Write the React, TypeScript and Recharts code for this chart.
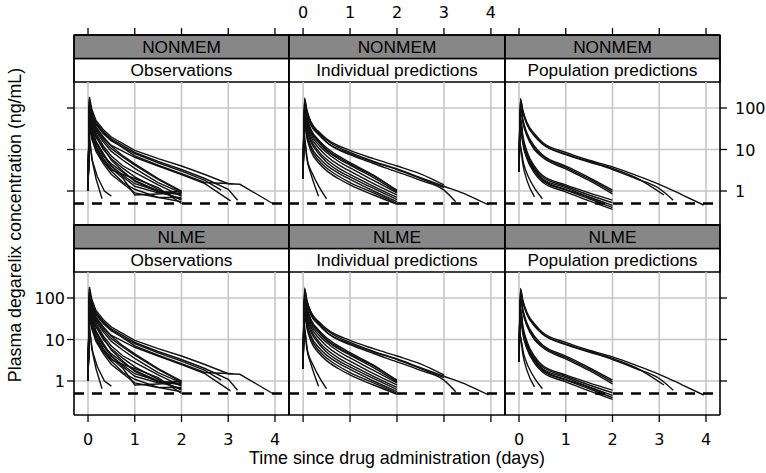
import React from 'react';
import { LineChart, Line, XAxis, YAxis, ReferenceArea, ReferenceLine } from 'recharts';

// ---------------- data ----------------
const ROW_LABELS = ['NONMEM', 'NLME'];
const COL_LABELS = ['Observations', 'Individual predictions', 'Population predictions'];
const X_TICKS = [0, 1, 2, 3, 4];
const Y_TICKS = [1, 10, 100];
const LLOQ = 0.5;

// shared sampling grid for subjects followed for 2 days
const T2 = [0, 0.03, 0.08, 0.17, 0.33, 0.5, 0.75, 1, 1.5, 2];

// Observations
const obsTimes: number[][] = [
  [0, 0.03, 0.08, 0.17, 0.33, 0.5, 1, 1.5, 2, 2.5, 3, 3.25, 3.95],
  [0, 0.03, 0.08, 0.17, 0.33, 0.5, 1, 1.5, 2, 2.5, 3, 3.2],
  [0, 0.03, 0.08, 0.17, 0.33, 0.5, 1, 1.5, 2, 2.5, 2.85],
  [0, 0.03, 0.08, 0.17, 0.33, 0.5, 1, 1.5, 2, 2.5, 3.05],
  [0, 0.03, 0.08, 0.17, 0.33, 0.5, 1, 1.5, 2, 2.5, 3.1],
  T2, T2, T2, T2, T2, T2, T2, T2, T2, T2, T2, T2, T2,
  [0, 0.02, 0.08, 0.17, 0.3],
  [0, 0.02, 0.1, 0.2, 0.35, 0.5],
];
const obsConc: number[][] = [
  [1, 185, 95, 50, 30, 20, 9.5, 6, 4, 2.5, 1.5, 1.45, 0.5],
  [1, 150, 80, 45, 27, 18, 8.5, 5.2, 3.3, 2.0, 1.1, 0.6],
  [1, 120, 70, 40, 24, 16, 8, 4.8, 3, 1.8, 1.05],
  [1, 165, 60, 33, 19, 12.5, 6.5, 4, 2.5, 1.5, 0.58],
  [1, 140, 75, 42, 26, 17, 7, 4.2, 2.6, 1.6, 1.5],
  [1, 110, 60, 35, 20, 12, 7, 4.5, 2, 1.0],
  [1, 90, 50, 28, 15, 9, 5.5, 3.5, 1.6, 0.9],
  [1, 130, 55, 25, 12, 7, 4, 2.8, 1.4, 0.75],
  [1, 70, 40, 20, 10, 6, 3.5, 2.2, 1.1, 0.6],
  [1, 60, 30, 15, 7, 4.5, 2.8, 1.8, 1.0, 0.8],
  [1, 80, 35, 16, 8, 4, 2.2, 1.3, 0.9, 1.0],
  [1, 50, 25, 12, 6, 3.5, 2, 0.8, 0.85, 0.9],
  [1, 40, 20, 10, 5, 3, 1.6, 1.1, 0.7, 0.55],
  [1, 100, 45, 22, 11, 5.5, 3, 1.7, 0.95, 0.65],
  [1, 35, 18, 9, 4.5, 2.5, 1.5, 0.9, 0.7, 0.7],
  [1, 45, 22, 11, 5.5, 3.2, 2.5, 2.0, 1.2, 0.5],
  [1, 55, 28, 14, 7, 4, 2.4, 1.5, 1.0, 0.85],
  [1, 95, 52, 30, 17, 10.5, 6.5, 4.2, 1.9, 0.95],
  [1, 30, 6, 2, 0.65],
  [1, 20, 5, 2.2, 1.0, 0.75],
];

// Individual predictions
const ipredTimes: number[][] = [
  [0, 0.03, 0.08, 0.17, 0.33, 0.5, 1, 1.5, 2, 2.5, 3, 3.5, 3.95],
  [0, 0.03, 0.08, 0.17, 0.33, 0.5, 1, 1.5, 2, 2.5, 3, 3.25],
  [0, 0.03, 0.08, 0.17, 0.33, 0.5, 1, 1.5, 2, 2.5, 3],
  [0, 0.03, 0.08, 0.17, 0.33, 0.5, 1, 1.5, 2, 2.5, 3],
  T2, T2, T2, T2, T2, T2, T2, T2, T2, T2,
  [0, 0.02, 0.08, 0.17, 0.33],
  [0, 0.02, 0.1, 0.2, 0.35, 0.5],
];
const ipredConc: number[][] = [
  [2, 175, 90, 45, 26, 17, 8.5, 5.2, 3.4, 2.1, 1.3, 0.8, 0.46],
  [2, 150, 80, 40, 24, 15, 7.5, 4.6, 2.9, 1.8, 1.05, 0.55],
  [2, 160, 85, 45, 27, 18, 9.5, 6, 4, 2.6, 1.4],
  [2, 130, 70, 38, 23, 15, 8, 5, 3.3, 2.0, 1.2],
  [2, 120, 60, 30, 17, 11, 7, 4.8, 2.4, 1.0],
  [2, 100, 50, 26, 15, 9.5, 6, 4.2, 2.1, 0.95],
  [2, 90, 45, 23, 13, 8.5, 5.2, 3.6, 1.8, 0.9],
  [2, 80, 40, 20, 11, 7, 4.3, 3.0, 1.5, 0.8],
  [2, 70, 34, 17, 9, 5.8, 3.6, 2.5, 1.3, 0.7],
  [2, 60, 30, 15, 8, 5, 3.1, 2.2, 1.15, 0.62],
  [2, 50, 25, 12, 6.5, 4.2, 2.7, 1.9, 1.0, 0.55],
  [2, 45, 22, 10.5, 5.5, 3.6, 2.3, 1.6, 0.9, 0.5],
  [2, 40, 19, 9, 4.8, 3.1, 2.0, 1.4, 0.8, 0.48],
  [2, 110, 55, 28, 16, 10, 6.5, 4.5, 2.3, 1.05],
  [2, 25, 6, 2.5, 0.75],
  [2, 18, 5, 2.6, 1.2, 0.65],
];

// Population predictions
const predTimes: number[][] = [
  [0, 0.03, 0.08, 0.17, 0.33, 0.5, 1, 1.5, 2, 2.5, 3, 3.5, 3.95],
  [0, 0.03, 0.08, 0.17, 0.33, 0.5, 1, 1.5, 2, 2.5, 3.1],
  [0, 0.03, 0.08, 0.17, 0.33, 0.5, 1, 1.5, 2, 2.5, 3, 3.3],
  [0, 0.03, 0.08, 0.17, 0.33, 0.5, 1, 1.5, 2],
  [0, 0.03, 0.08, 0.17, 0.33, 0.5, 1, 1.5, 2],
  [0, 0.03, 0.08, 0.17, 0.33, 0.5, 1, 1.5, 2],
  [0, 0.03, 0.08, 0.17, 0.33, 0.5, 1, 1.5, 2],
  [0, 0.03, 0.08, 0.17, 0.33, 0.5, 1, 1.5, 2],
  [0, 0.03, 0.08, 0.17, 0.33, 0.5, 1, 1.5, 2],
  [0, 0.03, 0.08, 0.17, 0.33, 0.5, 1, 1.5, 2],
  [0, 0.03, 0.08, 0.17, 0.33, 0.5, 1, 1.5, 2],
  [0, 0.03, 0.08, 0.17, 0.33, 0.5, 1, 1.5, 1.75],
  [0, 0.02, 0.08, 0.17, 0.33],
  [0, 0.02, 0.1, 0.2, 0.35, 0.5],
];
const predConc: number[][] = [
  [3, 170, 90, 45, 24, 15, 8.5, 5.5, 3.8, 2.4, 1.45, 0.8, 0.46],
  [3, 160, 85, 42, 22, 14, 7.8, 5.2, 3.5, 2.1, 0.8],
  [3, 150, 80, 40, 21, 13.5, 7.5, 5.0, 3.3, 2.0, 1.15, 0.6],
  [3, 120, 55, 25, 12, 7.5, 4.0, 2.1, 1.05],
  [3, 110, 50, 23, 11, 7, 3.7, 1.95, 0.95],
  [3, 100, 46, 21, 10, 6.5, 3.4, 1.8, 0.85],
  [3, 60, 22, 9, 4, 2.4, 1.4, 0.9, 0.6],
  [3, 55, 20, 8, 3.6, 2.2, 1.3, 0.8, 0.52],
  [3, 50, 18, 7.2, 3.3, 2.0, 1.2, 0.72, 0.45],
  [3, 45, 16, 6.5, 3.0, 1.8, 1.05, 0.65, 0.4],
  [3, 40, 14, 6, 2.7, 1.65, 0.95, 0.58, 0.36],
  [3, 50, 17, 7, 3.2, 1.9, 1.1, 0.7, 0.55],
  [3, 14, 4.5, 1.8, 0.72],
  [3, 12, 4.5, 2.2, 1.1, 0.65],
];

// ---------------- layout ----------------
const W = 766;
const H = 473;
const FONT = '"Liberation Sans", Arial, Helvetica, sans-serif';
const TICK_FONT = '"DejaVu Sans", "Liberation Sans", Arial, sans-serif';
const PANEL_LEFT = [74, 289, 505];
const PANEL_RIGHT = [289, 505, 720];
const ROW_TOP = [35, 225];
const ROW_H = 190; // strips + plotting region
const STRIP_H = 23.5;
const PX_PER_DECADE = 41.5;
const BELOW_ONE_PX = 34; // plot bottom lies 34px below y = 1
const X_DOMAIN: [number, number] = [-0.3, 4.3];
const logAt = (pxAboveBottom: number) =>
  Math.pow(10, (pxAboveBottom - BELOW_ONE_PX) / PX_PER_DECADE);
const Y_MIN = logAt(0);
const Y_MAX = logAt(ROW_H);
const STRIP1_BOTTOM = logAt(ROW_H - STRIP_H);
const STRIP2_BOTTOM = logAt(ROW_H - 2 * STRIP_H);
const AXIS_H = 30;
const AXIS_W = 40;
const FS_STRIP = 17.3;
const FS_TITLE = 17.8;
const FS_TICK = 16;
const GRID = '#c6c6c6';

const toPoints = (ts: number[], cs: number[]) => ts.map((t, i) => ({ t, c: cs[i] }));
const SERIES = [
  { times: obsTimes, conc: obsConc, curve: 'linear' as const },
  { times: ipredTimes, conc: ipredConc, curve: 'monotone' as const },
  { times: predTimes, conc: predConc, curve: 'monotone' as const },
];

const Empty = () => <g />;
const TopTick = (p: any) => (
  <text x={p.x} y={p.y - 8} textAnchor="middle" fontSize={FS_TICK} fontFamily={TICK_FONT} fill="#000">
    {p.payload.value}
  </text>
);
const BottomTick = (p: any) => (
  <text x={p.x} y={p.y + 21} textAnchor="middle" fontSize={FS_TICK} fontFamily={TICK_FONT} fill="#000">
    {p.payload.value}
  </text>
);
const LeftTick = (p: any) => (
  <text x={p.x} y={p.y + 6} textAnchor="end" fontSize={FS_TICK} fontFamily={TICK_FONT} fill="#000">
    {p.payload.value}
  </text>
);
const RightTick = (p: any) => (
  <text x={p.x + 6} y={p.y + 6} textAnchor="start" fontSize={FS_TICK} fontFamily={TICK_FONT} fill="#000">
    {p.payload.value}
  </text>
);

function Panel({ row, col }: { row: number; col: number }) {
  const top = ROW_TOP[row];
  const bottom = top + ROW_H;
  const margin = {
    top: top - AXIS_H,
    bottom: H - bottom - AXIS_H,
    left: PANEL_LEFT[col] - AXIS_W,
    right: W - PANEL_RIGHT[col] - AXIS_W,
  };
  const s = SERIES[col];
  const axisLine = { stroke: '#000', strokeWidth: 1.6 };
  const tl = { stroke: '#000', strokeWidth: 1.3 };
  return (
    <div style={{ position: 'absolute', left: 0, top: 0 }}>
      <LineChart width={W} height={H} margin={margin}>
        <XAxis
          xAxisId="b" orientation="bottom" type="number" dataKey="t" height={AXIS_H}
          domain={X_DOMAIN} allowDataOverflow ticks={X_TICKS} interval={0}
          axisLine={axisLine} tickSize={7}
          tickLine={row === 1 ? tl : false}
          tick={row === 1 ? (col !== 1 ? BottomTick : Empty) : false}
        />
        <XAxis
          xAxisId="t" orientation="top" type="number" dataKey="t" height={AXIS_H}
          domain={X_DOMAIN} allowDataOverflow ticks={X_TICKS} interval={0}
          axisLine={axisLine} tickSize={7}
          tickLine={row === 0 ? tl : false}
          tick={row === 0 ? (col === 1 ? TopTick : Empty) : false}
        />
        <YAxis
          yAxisId="l" orientation="left" type="number" scale="log" width={AXIS_W}
          domain={[Y_MIN, Y_MAX]} allowDataOverflow ticks={Y_TICKS} interval={0}
          axisLine={axisLine} tickSize={7}
          tickLine={col === 0 ? tl : false}
          tick={col === 0 ? (row === 1 ? LeftTick : Empty) : false}
        />
        <YAxis
          yAxisId="r" orientation="right" type="number" scale="log" width={AXIS_W}
          domain={[Y_MIN, Y_MAX]} allowDataOverflow ticks={Y_TICKS} interval={0}
          axisLine={axisLine} tickSize={7}
          tickLine={col === 2 ? tl : false}
          tick={col === 2 ? (row === 0 ? RightTick : Empty) : false}
        />
        {X_TICKS.map((t) => (
          <ReferenceLine
            key={`gx${t}`} xAxisId="b" yAxisId="l" ifOverflow="visible"
            segment={[{ x: t, y: Y_MIN }, { x: t, y: STRIP2_BOTTOM }]}
            stroke={GRID} strokeWidth={1.6}
          />
        ))}
        {Y_TICKS.map((v) => (
          <ReferenceLine
            key={`gy${v}`} xAxisId="b" yAxisId="l" y={v} ifOverflow="visible"
            stroke={GRID} strokeWidth={1.6}
          />
        ))}
        {s.times.map((ts, i) => (
          <Line
            key={i}
            xAxisId="b"
            yAxisId="l"
            data={toPoints(ts, s.conc[i])}
            dataKey="c"
            type={s.curve}
            stroke="#111"
            strokeWidth={1.4}
            dot={false}
            activeDot={false}
            isAnimationActive={false}
          />
        ))}
        <ReferenceLine
          xAxisId="b" yAxisId="l" y={LLOQ}
          stroke="#000" strokeWidth={2.4} strokeDasharray="10 8"
        />
        <ReferenceArea
          xAxisId="b" yAxisId="l" y1={STRIP2_BOTTOM} y2={STRIP1_BOTTOM}
          fill="#ffffff" fillOpacity={1} stroke="#000" strokeWidth={1.3} ifOverflow="visible"
          label={{ value: COL_LABELS[col], position: 'center', fill: '#000', fontSize: FS_STRIP, fontFamily: FONT }}
        />
        <ReferenceArea
          xAxisId="b" yAxisId="l" y1={STRIP1_BOTTOM} y2={Y_MAX}
          fill="#878787" fillOpacity={1} stroke="#000" strokeWidth={1.3} ifOverflow="visible"
          label={{ value: ROW_LABELS[row], position: 'center', fill: '#000', fontSize: FS_STRIP, fontFamily: FONT }}
        />
      </LineChart>
    </div>
  );
}

export default function App() {
  const panels = [];
  for (let r = 0; r < 2; r++) for (let c = 0; c < 3; c++) panels.push(<Panel key={`${r}-${c}`} row={r} col={c} />);
  return (
    <div style={{ position: 'absolute', left: 0, top: 0, width: W, height: H, background: '#fff', overflow: 'hidden' }}>
      {panels}
      <svg width={W} height={H} style={{ position: 'absolute', left: 0, top: 0, pointerEvents: 'none' }}>
        <text x={397} y={464} textAnchor="middle" fontSize={FS_TITLE} fontFamily={FONT} fill="#000">
          Time since drug administration (days)
        </text>
        <text transform="translate(20.5,225) rotate(-90)" textAnchor="middle" fontSize={FS_TITLE} fontFamily={FONT} fill="#000">
          Plasma degarelix concentration (ng/mL)
        </text>
      </svg>
    </div>
  );
}
